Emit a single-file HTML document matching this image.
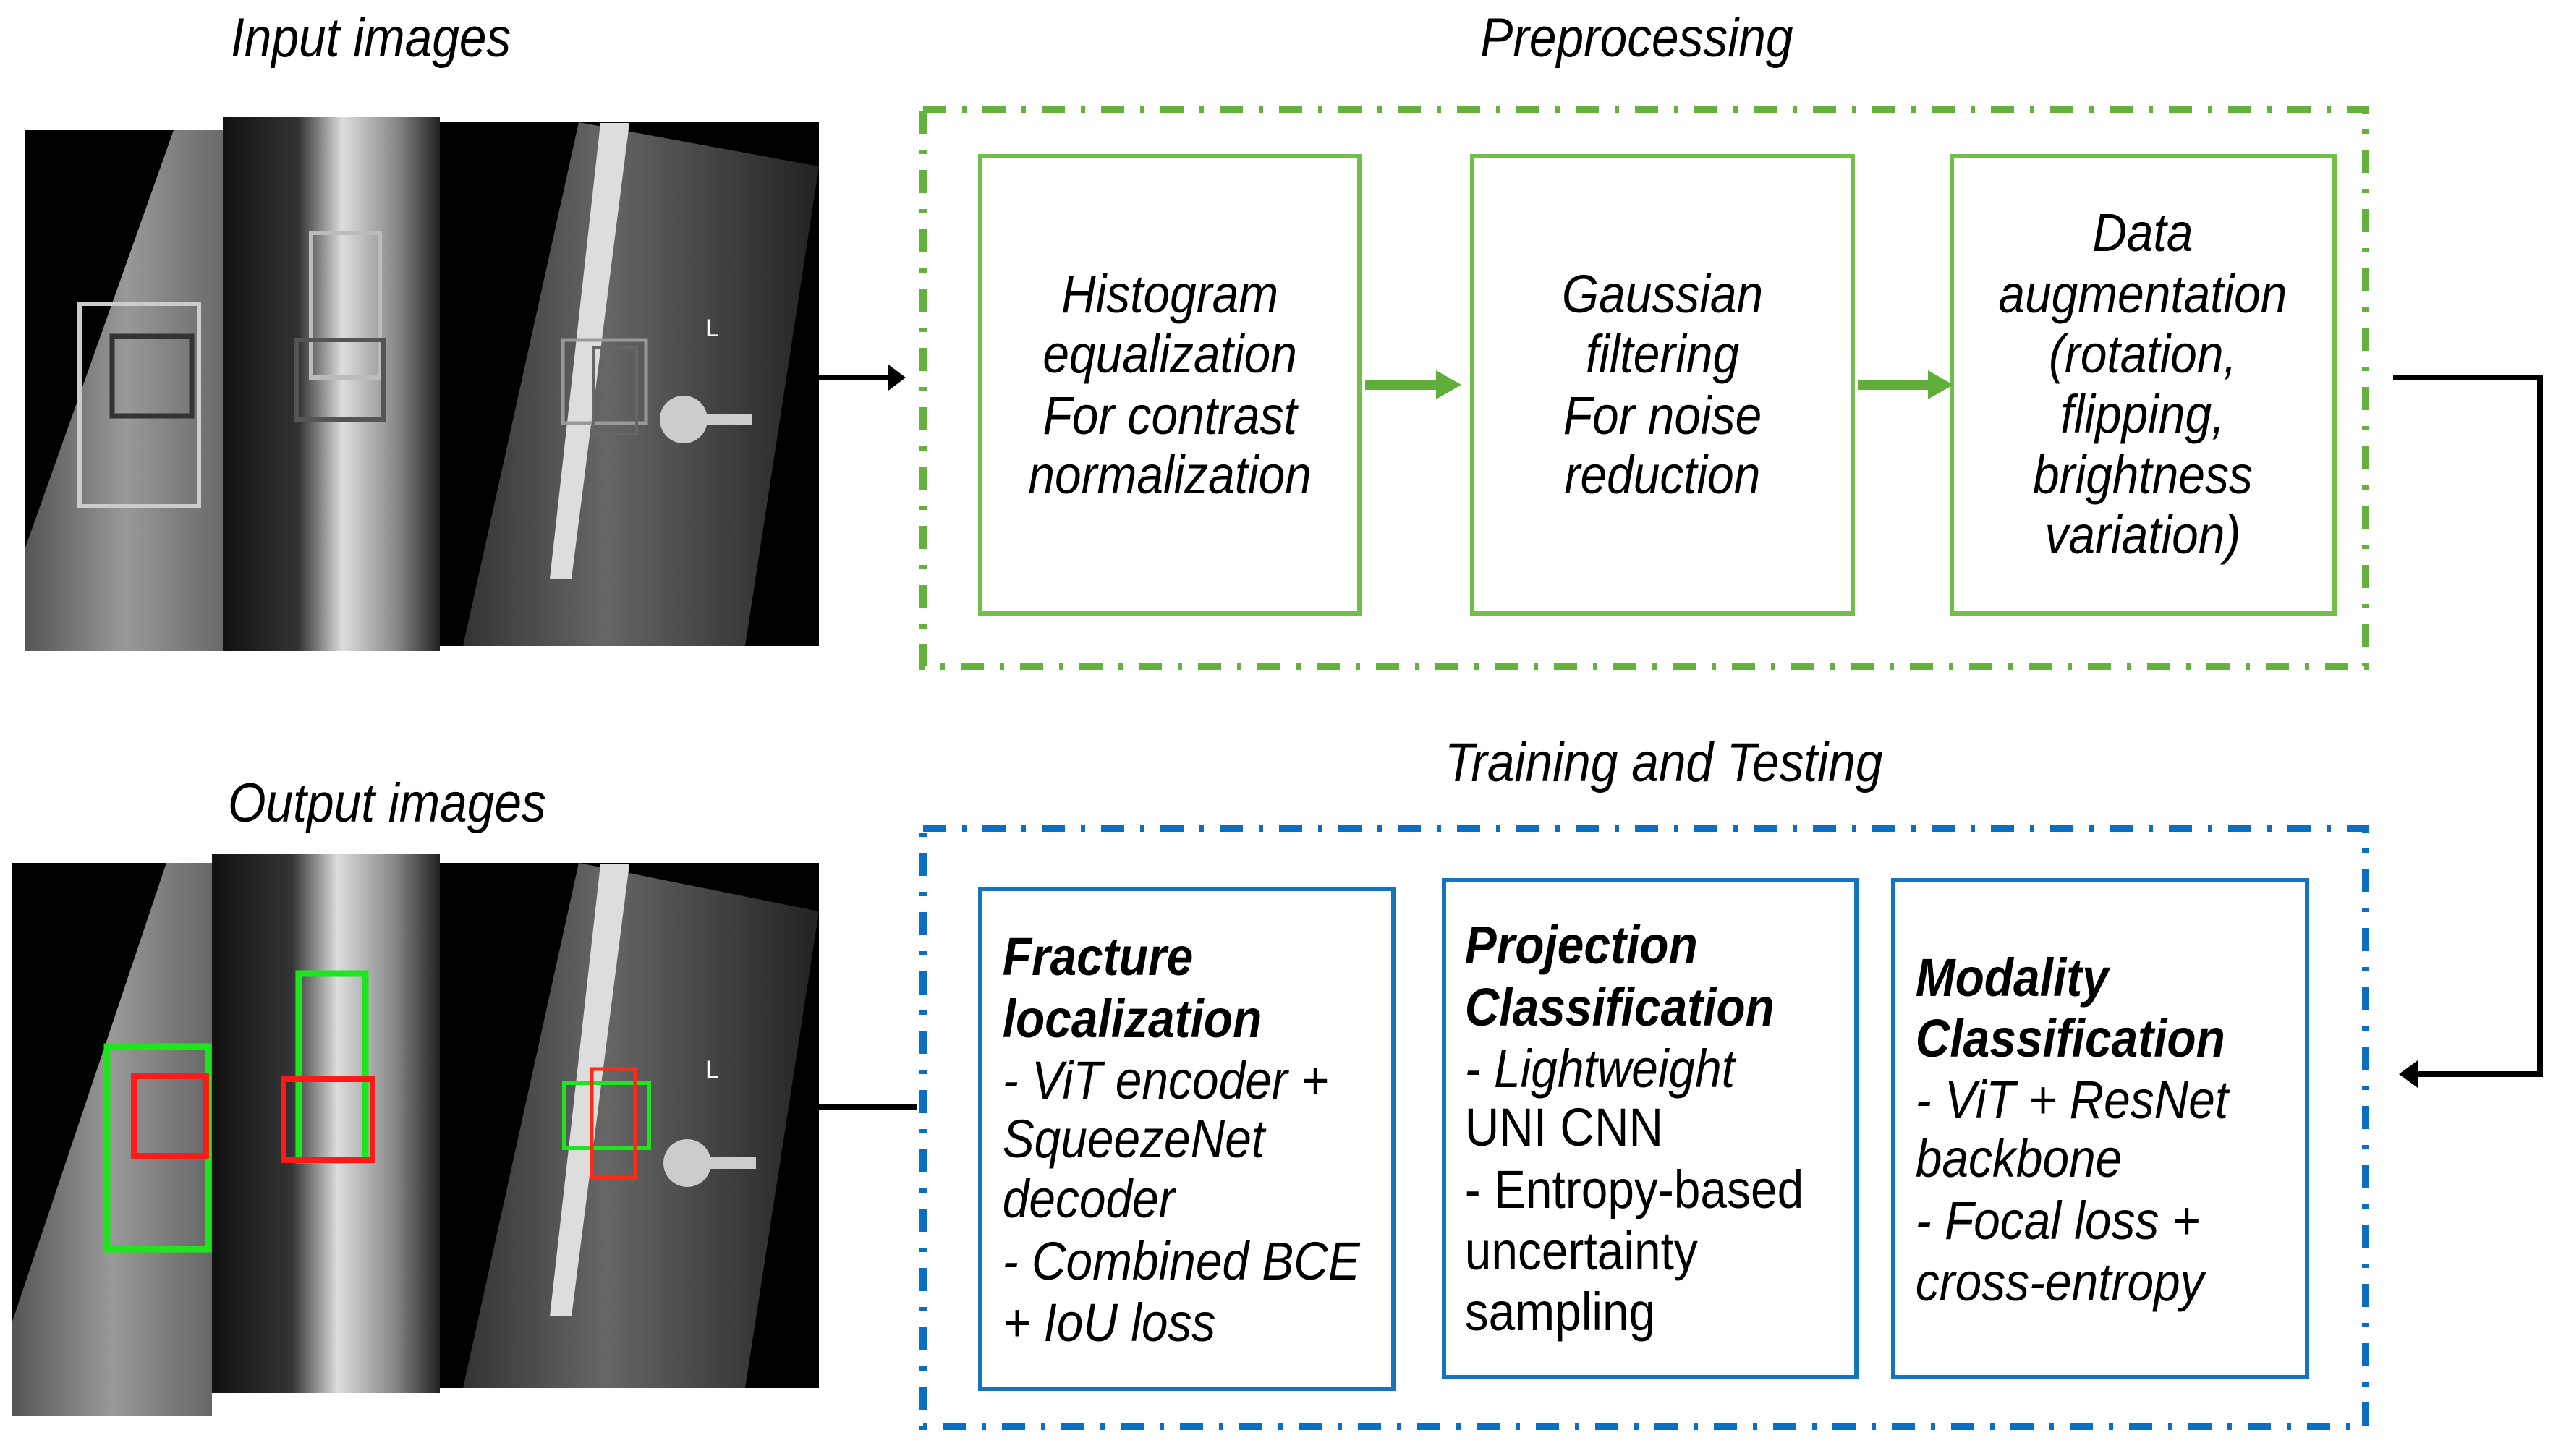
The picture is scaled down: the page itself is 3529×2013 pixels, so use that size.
<!DOCTYPE html>
<html><head><meta charset="utf-8"><style>
html,body{margin:0;padding:0;background:#fff;}
svg{display:block;}
text{font-family:"Liberation Sans",sans-serif;fill:#000;}
.t{font-size:74px;font-style:italic;}
.b{font-size:74px;font-style:italic;font-weight:bold;}
.n{font-size:74px;}
.h{font-size:76px;font-style:italic;}
</style></head><body>
<svg width="3529" height="2013" viewBox="0 0 3529 2013" xmlns="http://www.w3.org/2000/svg">
<defs>
<linearGradient id="g1" x1="0" y1="0" x2="1" y2="0"><stop offset="0" stop-color="#555"/><stop offset="0.5" stop-color="#999"/><stop offset="1" stop-color="#666"/></linearGradient>
<linearGradient id="g2" x1="0" y1="0" x2="1" y2="0"><stop offset="0" stop-color="#111"/><stop offset="0.35" stop-color="#333"/><stop offset="0.55" stop-color="#ddd"/><stop offset="0.8" stop-color="#888"/><stop offset="1" stop-color="#222"/></linearGradient>
<linearGradient id="g3" x1="0" y1="0" x2="1" y2="0"><stop offset="0" stop-color="#333"/><stop offset="0.4" stop-color="#666"/><stop offset="1" stop-color="#222"/></linearGradient>
</defs>

<g transform="scale(0.89,1)" text-anchor="middle">
<text class="h" x="576" y="78">Input images</text>
<text class="h" x="2542" y="78">Preprocessing</text>
<text class="h" x="2584" y="1080">Training and Testing</text>
<text class="h" x="601" y="1136">Output images</text>
</g>

<!-- Input images -->
<g>
<rect x="34" y="180" width="281" height="720" fill="#000"/>
<polygon points="34,760 240,180 315,180 315,900 34,900" fill="url(#g1)"/>
<rect x="110" y="420" width="165" height="280" fill="none" stroke="#ccc" stroke-width="6"/>
<rect x="155" y="465" width="110" height="110" fill="none" stroke="#333" stroke-width="7"/>
<rect x="308" y="162" width="300" height="738" fill="url(#g2)"/>
<rect x="430" y="322" width="95" height="200" fill="none" stroke="#bbb" stroke-width="6"/>
<rect x="410" y="470" width="120" height="110" fill="none" stroke="#555" stroke-width="6"/>
<rect x="608" y="169" width="524" height="724" fill="#000"/>
<polygon points="800,169 1132,230 1030,893 640,893" fill="url(#g3)"/>
<polygon points="830,170 870,170 790,800 760,800" fill="#ddd"/>
<rect x="778" y="470" width="115" height="115" fill="none" stroke="#999" stroke-width="5"/>
<rect x="820" y="480" width="60" height="120" fill="none" stroke="#666" stroke-width="4"/>
<circle cx="945" cy="580" r="33" fill="#ccc"/>
<rect x="960" y="572" width="80" height="16" fill="#ccc"/>
<text x="975" y="465" font-size="34" style="fill:#fff">L</text>
</g>

<!-- Output images -->
<g>
<rect x="16" y="1193" width="277" height="765" fill="#000"/>
<polygon points="16,1830 230,1193 293,1193 293,1958 16,1958" fill="url(#g1)"/>
<rect x="148" y="1447" width="140" height="280" fill="none" stroke="#1ee61e" stroke-width="9"/>
<rect x="185" y="1488" width="100" height="110" fill="none" stroke="#ff1a1a" stroke-width="8"/>
<rect x="293" y="1181" width="315" height="745" fill="url(#g2)"/>
<rect x="413" y="1346" width="92" height="258" fill="none" stroke="#1ee61e" stroke-width="9"/>
<rect x="392" y="1492" width="123" height="112" fill="none" stroke="#ff1a1a" stroke-width="8"/>
<rect x="608" y="1193" width="524" height="726" fill="#000"/>
<polygon points="800,1193 1132,1260 1030,1919 640,1919" fill="url(#g3)"/>
<polygon points="830,1195 870,1195 790,1820 760,1820" fill="#ddd"/>
<rect x="780" y="1497" width="117" height="90" fill="none" stroke="#1ee61e" stroke-width="6"/>
<rect x="818" y="1478" width="60" height="150" fill="none" stroke="#ff2a10" stroke-width="5"/>
<circle cx="950" cy="1608" r="33" fill="#ccc"/>
<rect x="965" y="1600" width="80" height="16" fill="#ccc"/>
<text x="975" y="1490" font-size="34" style="fill:#fff">L</text>
</g>

<!-- Preprocessing container -->
<rect x="1276" y="151" width="1994" height="770" fill="none" stroke="#65b13d" stroke-width="10" stroke-dasharray="32,22,6,22"/>
<g fill="none" stroke="#72be4a" stroke-width="6">
<rect x="1355" y="216" width="524" height="632"/>
<rect x="2035" y="216" width="526" height="632"/>
<rect x="2698" y="216" width="529" height="632"/>
</g>
<g fill="#5fae3a">
<rect x="1887" y="525" width="100" height="14"/><polygon points="1985,512 2020,532 1985,552"/>
<rect x="2568" y="525" width="100" height="14"/><polygon points="2665,512 2700,532 2665,552"/>
</g>
<g transform="scale(0.89,1)" text-anchor="middle">
<text class="t" x="1817" y="432">Histogram</text>
<text class="t" x="1817" y="515">equalization</text>
<text class="t" x="1817" y="600">For contrast</text>
<text class="t" x="1817" y="682">normalization</text>
<text class="t" x="2582" y="432">Gaussian</text>
<text class="t" x="2582" y="515">filtering</text>
<text class="t" x="2582" y="600">For noise</text>
<text class="t" x="2582" y="682">reduction</text>
<text class="t" x="3328" y="347">Data</text>
<text class="t" x="3328" y="432">augmentation</text>
<text class="t" x="3328" y="515">(rotation,</text>
<text class="t" x="3328" y="598">flipping,</text>
<text class="t" x="3328" y="682">brightness</text>
<text class="t" x="3328" y="765">variation)</text>
</g>

<!-- Connectors -->
<rect x="1132" y="518" width="100" height="8" fill="#000"/>
<polygon points="1228,504 1252,522 1228,540" fill="#000"/>
<polyline points="3308,522 3511,522 3511,1485 3340,1485" fill="none" stroke="#000" stroke-width="8"/>
<polygon points="3342,1466 3316,1485 3342,1504" fill="#000"/>
<rect x="1132" y="1527" width="135" height="7" fill="#000"/>

<!-- Training container -->
<rect x="1276" y="1145" width="1994" height="827" fill="none" stroke="#0a6fc2" stroke-width="10" stroke-dasharray="32,22,6,22"/>
<g fill="none" stroke="#1474bf" stroke-width="6">
<rect x="1355" y="1229" width="571" height="691"/>
<rect x="1996" y="1217" width="570" height="687"/>
<rect x="2617" y="1217" width="572" height="687"/>
</g>
<g transform="scale(0.89,1)">
<text class="b" x="1557" y="1348">Fracture</text>
<text class="b" x="1557" y="1434">localization</text>
<text class="t" x="1557" y="1519">- ViT encoder +</text>
<text class="t" x="1557" y="1600">SqueezeNet</text>
<text class="t" x="1557" y="1683">decoder</text>
<text class="t" x="1557" y="1769">- Combined BCE</text>
<text class="t" x="1557" y="1854">+ IoU loss</text>

<text class="b" x="2275" y="1332">Projection</text>
<text class="b" x="2275" y="1418">Classification</text>
<text class="t" x="2275" y="1503">- Lightweight</text>
<text class="n" x="2275" y="1584">UNI CNN</text>
<text class="n" x="2275" y="1670">- Entropy-based</text>
<text class="n" x="2275" y="1755">uncertainty</text>
<text class="n" x="2275" y="1839">sampling</text>

<text class="b" x="2975" y="1377">Modality</text>
<text class="b" x="2975" y="1461">Classification</text>
<text class="t" x="2975" y="1546">- ViT + ResNet</text>
<text class="t" x="2975" y="1627">backbone</text>
<text class="t" x="2975" y="1713">- Focal loss +</text>
<text class="t" x="2975" y="1798">cross-entropy</text>
</g>
</svg>
</body></html>
